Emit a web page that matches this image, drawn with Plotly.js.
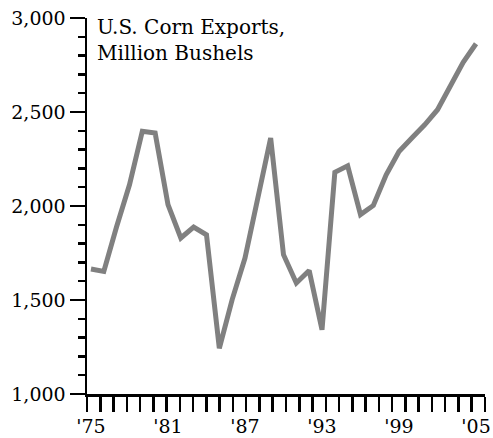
<!DOCTYPE html>
<html>
<head>
<meta charset="utf-8">
<script src="https://cdn.plot.ly/plotly-3.0.1.min.js"></script>
<style>html,body{margin:0;padding:0;background:#fff;}#chart{width:493px;height:438px;}</style>
</head>
<body>
<div id="chart"></div>
<script>
// U.S. corn exports, million bushels
const years = [1975,1976,1977,1978,1979,1980,1981,1982,1983,1984,1985,1986,1987,1988,1989,1990,
               1991,1992,1993,1994,1995,1996,1997,1998,1999,2000,2001,2002,2003,2004,2005];
const exportsMb = [1665,1652,1891,2113,2398,2388,2007,1830,1888,1847,1243,1502,1723,2034,2362,1741,
                   1590,1657,1342,2179,2214,1954,2003,2166,2290,2362,2432,2512,2645,2764,2863];
const xTickVals = [1975,1981,1987,1993,1999,2005];
const xTickText = ["'75","'81","'87","'93","'99","'05"];
const titleText = "U.S. Corn Exports,<br>Million Bushels";

const serif = "DejaVu Serif, serif";

const trace = {
  x: years, y: exportsMb, xaxis: 'x2', yaxis: 'y',
  type: 'scatter', mode: 'lines',
  line: {color: '#808080', width: 5},
  hoverinfo: 'skip'
};
// empty helper trace so the year-tick axis line is drawn
const axisHolder = {
  x: xTickVals, y: xTickVals.map(() => null), xaxis: 'x', yaxis: 'y',
  type: 'scatter', mode: 'lines', hoverinfo: 'skip', showlegend: false
};

const layout = {
  width: 493, height: 438,
  margin: {l: 87, r: 8, t: 18, b: 44, pad: 0},
  paper_bgcolor: '#ffffff', plot_bgcolor: '#ffffff',
  showlegend: false,
  font: {family: serif, size: 19, color: '#000'},
  // axis line with a tick at every year
  xaxis: {
    range: [1975, 2005], showgrid: false, zeroline: false,
    showline: true, linecolor: '#000', linewidth: 2.5,
    tickmode: 'array', tickvals: years, showticklabels: false,
    ticks: 'outside', ticklen: 15, tickwidth: 2.5, tickcolor: '#000',
    fixedrange: true
  },
  // data axis carrying the year labels
  xaxis2: {
    overlaying: 'x', anchor: 'y', side: 'bottom',
    range: [1974.69, 2005.70], showgrid: false, zeroline: false, showline: false,
    tickmode: 'array', tickvals: xTickVals, ticktext: xTickText,
    ticks: 'outside', ticklen: 15, tickwidth: 1, tickcolor: 'rgba(0,0,0,0)',
    ticklabeloverflow: 'allow',
    tickfont: {family: serif, size: 19, color: '#000'},
    fixedrange: true
  },
  yaxis: {
    range: [1000, 3000], showgrid: false, zeroline: false,
    showline: true, linecolor: '#000', linewidth: 2.5,
    tickmode: 'linear', tick0: 1000, dtick: 500, tickformat: ',d',
    ticks: 'outside', ticklen: 15, tickwidth: 2.5, tickcolor: '#000',
    ticklabeloverflow: 'allow',
    minor: {tickmode: 'linear', tick0: 1000, dtick: 100, ticks: 'outside', ticklen: 7, tickwidth: 2.5, tickcolor: '#000', showgrid: false},
    tickfont: {family: serif, size: 19, color: '#000'},
    fixedrange: true
  },
  annotations: [{
    xref: 'paper', yref: 'paper', x: 0.02, y: 1.012,
    xanchor: 'left', yanchor: 'top', align: 'left', showarrow: false,
    text: titleText, font: {family: serif, size: 20, color: '#000'}
  }]
};

Plotly.newPlot('chart', [axisHolder, trace], layout, {displayModeBar: false, staticPlot: true});
</script>
</body>
</html>
